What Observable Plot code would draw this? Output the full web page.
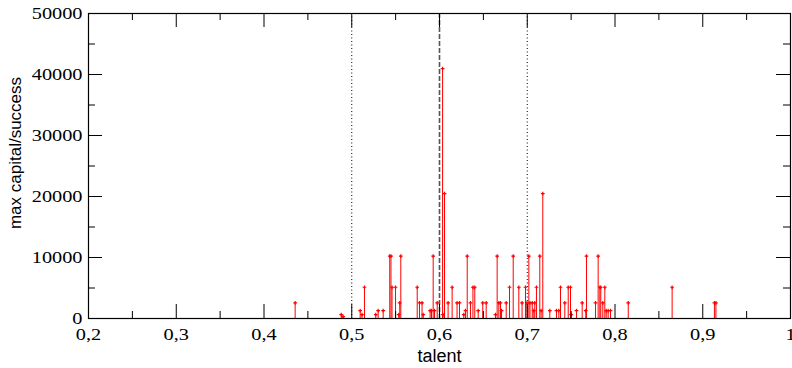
<!DOCTYPE html>
<html><head><meta charset="utf-8">
<script src="https://cdn.jsdelivr.net/npm/d3@7"></script>
<script src="https://cdn.jsdelivr.net/npm/@observablehq/plot@0.6"></script>
<style>body{margin:0;background:#fff}</style>
</head><body><div id="chart"></div>
<script>
const talent = [
  0.4355, 0.4880, 0.4902, 0.5096, 0.5117, 0.5145, 0.5274, 0.5301, 0.5358, 0.5433,
  0.5447, 0.5459, 0.5499, 0.5536, 0.5547, 0.5559, 0.5746, 0.5772, 0.5801, 0.5814,
  0.5893, 0.5909, 0.5928, 0.5943, 0.5974, 0.6035, 0.6040, 0.6057, 0.6098, 0.6144,
  0.6200, 0.6228, 0.6277, 0.6296, 0.6316, 0.6353, 0.6381, 0.6402, 0.6441, 0.6493,
  0.6532, 0.6638, 0.6657, 0.6676, 0.6695, 0.6707, 0.6760, 0.6798, 0.6840, 0.6904,
  0.6941, 0.6980, 0.6997, 0.7018, 0.7031, 0.7057, 0.7075, 0.7086, 0.7105, 0.7143,
  0.7158, 0.7177, 0.7257, 0.7333, 0.7360, 0.7379, 0.7428, 0.7467, 0.7493, 0.7499,
  0.7561, 0.7626, 0.7667, 0.7675, 0.7778, 0.7808, 0.7827, 0.7838, 0.7861, 0.7884,
  0.7900, 0.7922, 0.7949, 0.8151, 0.8651, 0.9133, 0.9150
];
const capital = [
  2560, 640, 320, 1280, 640, 5120, 640, 1280, 1280, 10240,
  10240, 5120, 5120, 640, 2560, 10240, 5120, 2560, 2560, 640,
  1280, 1280, 10240, 1280, 2560, 40960, 640, 20480, 2560, 5120,
  2560, 2560, 640, 1280, 10240, 2560, 5120, 5120, 1280, 2560,
  2560, 640, 10240, 2560, 2560, 1280, 2560, 5120, 10240, 5120,
  2560, 5120, 2560, 10240, 2560, 2560, 1280, 2560, 5120, 10240,
  1280, 20480, 1280, 1280, 1280, 5120, 2560, 5120, 5120, 640,
  1280, 2560, 1280, 10240, 2560, 10240, 5120, 5120, 2560, 5120,
  1280, 1280, 1280, 2560, 5120, 2560, 2560
];
const xTicks = [0.2, 0.3, 0.4, 0.5, 0.6, 0.7, 0.8, 0.9, 1];
const xMinor = [0.25, 0.35, 0.45, 0.55, 0.65, 0.75, 0.85, 0.95];
const yTicks = [0, 10000, 20000, 30000, 40000, 50000];
const yMinor = [5000, 15000, 25000, 35000, 45000];
const dottedLines = [0.5, 0.7];
const dashedLines = [0.6];
const xTitle = "talent";
const yTitle = "max capital/success";

const data = talent.map((t, i) => ({t, v: capital[i]}));
const W = 792, H = 368, mT = 13, mB = 50, mL = 88, mR = 2;
const innerH = H - mT - mB, innerW = W - mL - mR;
const major = 14, minor = 7;
const fmtX = d => d === 1 ? "1" : d3.format(".1f")(d).replace(".", ",");

const chart = Plot.plot({
  width: W, height: H,
  marginTop: mT, marginBottom: mB, marginLeft: mL, marginRight: mR,
  style: {background: "#fff", color: "#000"},
  x: {domain: [0.2, 1]},
  y: {domain: [0, 50000]},
  marks: [
    Plot.ruleX(dottedLines, {x: d => d, stroke: "#000", strokeWidth: 1, strokeDasharray: "1,2.5"}),
    Plot.ruleX(dashedLines, {x: d => d, stroke: "#555", strokeWidth: 1.6, strokeDasharray: "5,2"}),
    Plot.ruleX(data, {x: "t", y1: 0, y2: "v", stroke: "#ff0000", strokeWidth: 1}),
    Plot.dot(data, {x: "t", y: "v", symbol: "plus", r: 1.3, stroke: "#ff0000", strokeWidth: 1.2}),
    Plot.tickX(xTicks, {x: d => d, insetTop: innerH - major, stroke: "#000"}),
    Plot.tickX(xMinor, {x: d => d, insetTop: innerH - minor, stroke: "#000"}),
    Plot.tickX(xTicks, {x: d => d, insetBottom: innerH - major, stroke: "#000"}),
    Plot.tickX(xMinor, {x: d => d, insetBottom: innerH - minor, stroke: "#000"}),
    Plot.tickY(yTicks, {y: d => d, insetRight: innerW - major, stroke: "#000"}),
    Plot.tickY(yMinor, {y: d => d, insetRight: innerW - minor, stroke: "#000"}),
    Plot.tickY(yTicks, {y: d => d, insetLeft: innerW - major, stroke: "#000"}),
    Plot.tickY(yMinor, {y: d => d, insetLeft: innerW - minor, stroke: "#000"}),
    Plot.frame({stroke: "#000", strokeWidth: 1.2}),
    Plot.axisX({ticks: xTicks, tickSize: 0, tickPadding: 10, tickFormat: fmtX, label: null,
      fontFamily: "Liberation Serif", fontSize: 16}),
    Plot.axisY({ticks: yTicks, tickSize: 0, tickPadding: 6, tickFormat: d => String(d), label: null,
      fontFamily: "Liberation Serif", fontSize: 16}),
    Plot.text([xTitle], {text: d => d, frameAnchor: "bottom", lineAnchor: "middle", textAnchor: "middle", dy: 38,
      fontFamily: "Liberation Sans", fontSize: 18, fill: "#000"}),
    Plot.text([yTitle], {text: d => d, frameAnchor: "left", lineAnchor: "middle", textAnchor: "middle", rotate: -90, dx: -73, dy: -13,
      fontFamily: "Liberation Sans", fontSize: 17, fill: "#000"})
  ]
});
document.getElementById("chart").appendChild(chart);

// horizontal stretch of the tick label font, as in the reference (scaled about each label's anchor)
chart.querySelectorAll('g[aria-label="x-axis tick label"] text, g[aria-label="y-axis tick label"] text').forEach(el => {
  const t = el.getAttribute("transform") || "";
  el.setAttribute("transform", `${t} scale(1.27,1)`);
});
</script>
</body></html>
